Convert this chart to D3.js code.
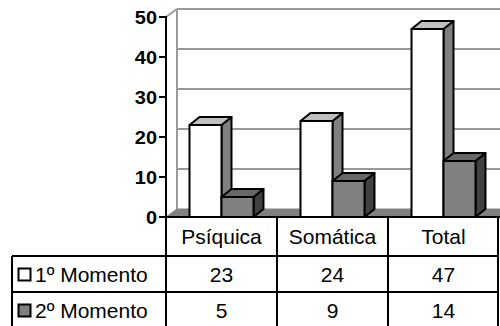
<!DOCTYPE html>
<html>
<head>
<meta charset="utf-8">
<script src="https://cdn.jsdelivr.net/npm/d3@7"></script>
<style>
  html, body { margin: 0; padding: 0; background: #fff; }
  svg { display: block; font-family: "Liberation Sans", Arial, sans-serif; }
</style>
</head>
<body>
<svg id="chart" width="500" height="326"></svg>
<script>
// Data
const categories = ["Psíquica", "Somática", "Total"];
const seriesNames = ["1º Momento", "2º Momento"];
const momento1 = [23, 24, 47];
const momento2 = [5, 9, 14];
const yTicks = [0, 10, 20, 30, 40, 50];

// Colours per series: front, top, side
const palette = [
  { front: "#ffffff", top: "#c0c0c0", side: "#808080" },
  { front: "#808080", top: "#666666", side: "#404040" }
];

const svg = d3.select("#chart");
const W = 500;

// Plot frame
const axisX = 166, baseY = 217, plotRight = 499;
const wallDX = 11, wallDY = -8;   // depth of back wall
const barDX = 10, barDY = -8;     // depth of each bar

const y = d3.scaleLinear().domain([0, 50]).range([baseY, 17]);
const x0 = d3.scaleBand().domain(categories).range([axisX, plotRight]).padding(0);
const x1 = d3.scaleBand().domain(seriesNames).range([0, x0.bandwidth()])
  .paddingInner(0).paddingOuter(0.735);

// Back wall gridlines
const grid = svg.append("g");
yTicks.filter(t => t > 0).forEach(t => {
  grid.append("line")
    .attr("x1", axisX + wallDX).attr("x2", W)
    .attr("y1", y(t) + wallDY).attr("y2", y(t) + wallDY)
    .attr("stroke", "#999").attr("stroke-width", 2);
});
// Left wall edge and top diagonal
grid.append("line")
  .attr("x1", axisX + wallDX).attr("x2", axisX + wallDX)
  .attr("y1", y(50) + wallDY).attr("y2", y(0) + wallDY)
  .attr("stroke", "#999").attr("stroke-width", 2);
grid.append("line")
  .attr("x1", axisX).attr("y1", y(50))
  .attr("x2", axisX + wallDX).attr("y2", y(50) + wallDY)
  .attr("stroke", "#999").attr("stroke-width", 2);

// Floor
svg.append("polygon")
  .attr("points", [
    [axisX, baseY], [axisX + wallDX, baseY + wallDY],
    [W, baseY + wallDY], [W, baseY]
  ].map(p => p.join(",")).join(" "))
  .attr("fill", "#808080").attr("stroke", "#808080").attr("stroke-width", 1);

// 3D bars
const bars = svg.append("g");
const seriesValues = [momento1, momento2];
categories.forEach((cat, ci) => {
  seriesNames.forEach((sn, si) => {
    const v = seriesValues[si][ci];
    const xl = x0(cat) + x1(sn);
    const xr = xl + x1.bandwidth();
    const yt = y(v), yb = y(0);
    const c = palette[si];
    const g = bars.append("g")
      .attr("stroke", "#000").attr("stroke-width", 2).attr("stroke-linejoin", "round");
    // side face
    g.append("polygon")
      .attr("points", [[xr, yb], [xr, yt], [xr + barDX, yt + barDY], [xr + barDX, yb + barDY]]
        .map(p => p.join(",")).join(" "))
      .attr("fill", c.side);
    // top face
    g.append("polygon")
      .attr("points", [[xl, yt], [xl + barDX, yt + barDY], [xr + barDX, yt + barDY], [xr, yt]]
        .map(p => p.join(",")).join(" "))
      .attr("fill", c.top);
    // front face
    g.append("rect")
      .attr("x", xl).attr("y", yt)
      .attr("width", xr - xl).attr("height", yb - yt)
      .attr("fill", c.front);
  });
});

// Value axis
const axis = svg.append("g");
axis.append("line")
  .attr("x1", axisX).attr("x2", axisX)
  .attr("y1", y(50) - 1).attr("y2", 326)
  .attr("stroke", "#000").attr("stroke-width", 2);
yTicks.forEach(t => {
  axis.append("line")
    .attr("x1", axisX - 7).attr("x2", axisX)
    .attr("y1", y(t)).attr("y2", y(t))
    .attr("stroke", "#000").attr("stroke-width", 2);
  axis.append("text")
    .attr("transform", `translate(${axisX - 9},${y(t) + 6.5}) scale(1.14,1)`)
    .attr("text-anchor", "end")
    .attr("font-size", 17.5).attr("font-weight", "bold")
    .text(t);
});

// Data table beneath the plot
const tableLeft = 12, tableRight = 498;
const rowTops = [217, 256, 292, 328];
const tbl = svg.append("g").attr("stroke", "#000").attr("stroke-width", 2);
tbl.append("line").attr("x1", axisX).attr("x2", W).attr("y1", rowTops[0]).attr("y2", rowTops[0]);
tbl.append("line").attr("x1", tableLeft).attr("x2", tableRight).attr("y1", rowTops[1]).attr("y2", rowTops[1]);
tbl.append("line").attr("x1", tableLeft).attr("x2", tableRight).attr("y1", rowTops[2]).attr("y2", rowTops[2]);
tbl.append("line").attr("x1", tableLeft).attr("x2", tableLeft).attr("y1", rowTops[1]).attr("y2", rowTops[3]);
categories.forEach(cat => {
  const xr = Math.min(x0(cat) + x0.bandwidth(), tableRight);
  tbl.append("line").attr("x1", xr).attr("x2", xr).attr("y1", rowTops[0]).attr("y2", rowTops[3]);
});

const txt = svg.append("g").attr("font-size", 21).attr("fill", "#000");
const rowMid = i => (rowTops[i] + rowTops[i + 1]) / 2;
categories.forEach((cat, ci) => {
  const cx = x0(cat) + x0.bandwidth() / 2;
  txt.append("text").attr("x", cx).attr("y", rowMid(0) + 7.5)
    .attr("text-anchor", "middle").text(cat);
  seriesValues.forEach((vals, si) => {
    txt.append("text").attr("x", cx).attr("y", rowMid(si + 1) + 7.5)
      .attr("text-anchor", "middle").text(vals[ci]);
  });
});
seriesNames.forEach((sn, si) => {
  const cy = rowMid(si + 1);
  svg.append("rect")
    .attr("x", 18.5).attr("y", cy - 5.5).attr("width", 12).attr("height", 12)
    .attr("fill", palette[si].front).attr("stroke", "#000").attr("stroke-width", 2);
  txt.append("text").attr("x", 35).attr("y", cy + 7.5).text(sn);
});
</script>
</body>
</html>
